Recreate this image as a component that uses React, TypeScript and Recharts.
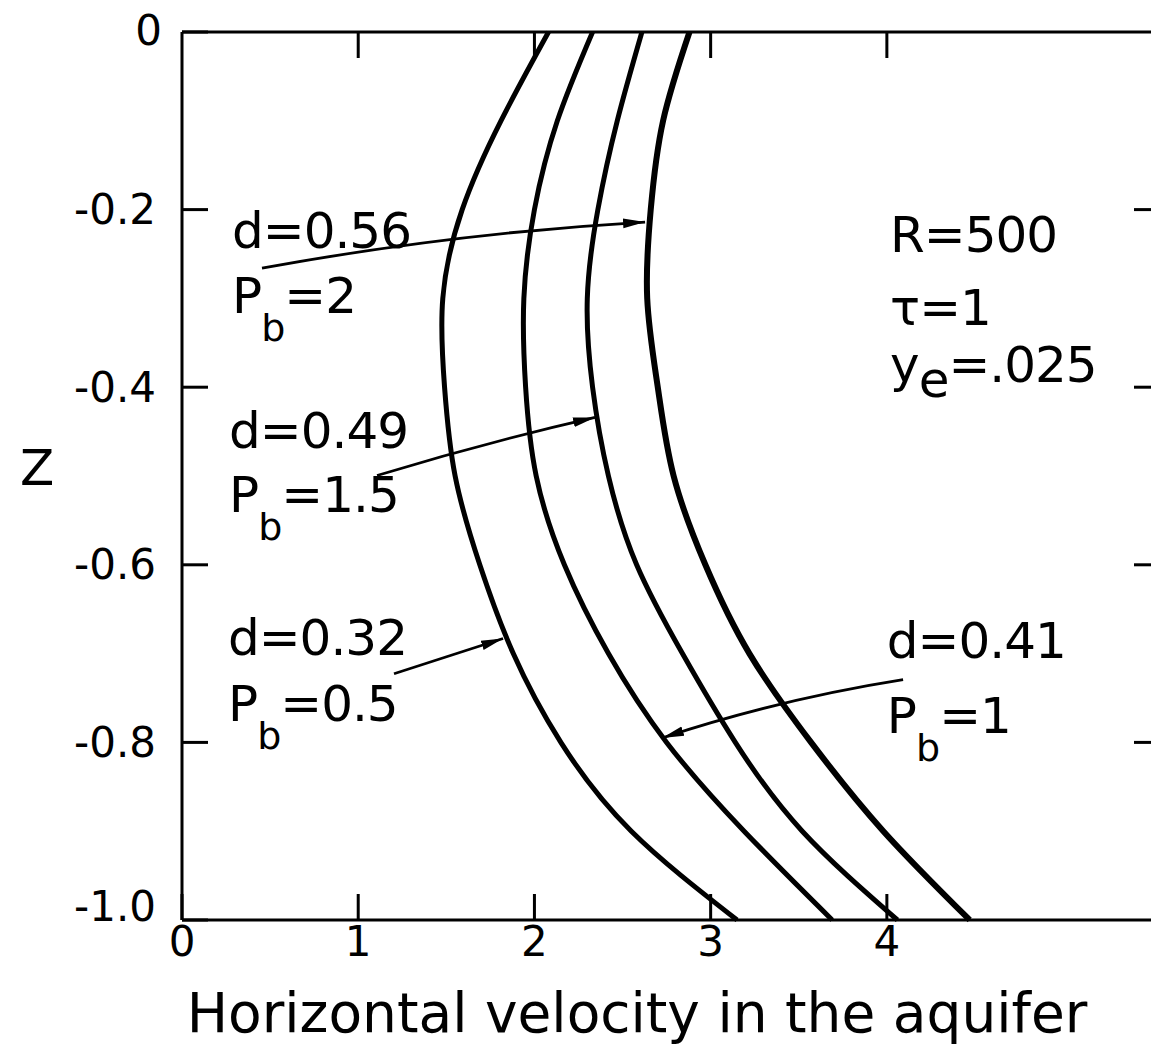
import { LineChart, Line, XAxis, YAxis, ReferenceLine, ReferenceDot } from "recharts";

// depth (Z) and horizontal velocity
const Z = [0, -0.1, -0.2, -0.3, -0.4, -0.5, -0.6, -0.7, -0.8, -0.9, -1.0];
const V_032 = [2.08, 1.81, 1.59, 1.48, 1.49, 1.55, 1.69, 1.88, 2.15, 2.55, 3.15];
const V_041 = [2.33, 2.13, 2.0, 1.94, 1.95, 2.01, 2.17, 2.42, 2.75, 3.19, 3.69];
const V_049 = [2.61, 2.47, 2.36, 2.3, 2.33, 2.42, 2.58, 2.84, 3.14, 3.52, 4.06];
const V_056 = [2.88, 2.73, 2.66, 2.64, 2.7, 2.79, 2.97, 3.22, 3.57, 3.98, 4.47];

const X_DOMAIN = [0, 5.55];
const X_TICKS = [0, 1, 2, 3, 4];
const X_TOP_TICKS = [1, 2, 3, 4];
const Z_TICKS = [0, -0.2, -0.4, -0.6, -0.8, -1.0];
const Z_LABELS = ["0", "-0.2", "-0.4", "-0.6", "-0.8", "-1.0"];
const Z_RIGHT_TICKS = [-0.2, -0.4, -0.6, -0.8];

const X_TITLE = "Horizontal velocity in the aquifer";
const Z_TITLE = "Z";

// text notes, anchored at (velocity, z) of their left baseline
const NOTES = [
  { x: 0.284, z: -0.2435, main: "d=0.56" },
  { x: 0.284, z: -0.317, main: "P", sub: "b", rest: "=2" },
  { x: 0.267, z: -0.469, main: "d=0.49" },
  { x: 0.267, z: -0.541, main: "P", sub: "b", rest: "=1.5" },
  { x: 0.261, z: -0.702, main: "d=0.32" },
  { x: 0.261, z: -0.776, main: "P", sub: "b", rest: "=0.5" },
  { x: 4.0, z: -0.7046, main: "d=0.41" },
  { x: 4.0, z: -0.789, main: "P", sub: "b", rest: "=1" },
  { x: 4.018, z: -0.248, main: "R=500" },
  { x: 4.018, z: -0.33, main: "τ=1" },
  { x: 4.018, z: -0.3946, main: "y", sub: "e", rest: "=.025", subDy: 15, subSize: 50 },
];

// leader arrows: tail -> head, bend in px
const ARROWS = [
  { from: { x: 0.454, y: -0.266 }, to: { x: 2.628, y: -0.214 }, bend: -12 },
  { from: { x: 1.107, y: -0.4994 }, to: { x: 2.344, y: -0.434 }, bend: -4 },
  { from: { x: 1.203, y: -0.7227 }, to: { x: 1.822, y: -0.683 }, bend: 0 },
  { from: { x: 4.092, y: -0.7294 }, to: { x: 2.724, y: -0.795 }, bend: 10 },
];

const FONT = "'DejaVu Sans', sans-serif";
const INK = "#000";
const AXIS_LINE = { stroke: INK, strokeWidth: 3 };

const data = Z.map((z, i) => ({ z, a: V_032[i], b: V_041[i], c: V_049[i], d: V_056[i] }));

const renderZTick = ({ x, y, payload }: any) => {
  const i = Z_TICKS.indexOf(payload.value);
  const lift = payload.value === -1 ? -14 : payload.value === 0 ? -2 : 0;
  return (
    <text x={payload.value === 0 ? x + 6 : x} y={y + lift} textAnchor="end" dominantBaseline="central"
      fontSize={42} fontFamily={FONT} fill={INK}>
      {Z_LABELS[i]}
    </text>
  );
};

const renderXTick = ({ x, y, payload }: any) => (
  <text x={x} y={y} dy="0.73em" textAnchor="middle" fontSize={42} fontFamily={FONT} fill={INK}>
    {payload.value}
  </text>
);

// frame ticks only, no labels
const renderBlank = () => <g />;

const bentArrow = (bend: number) => (p: any) => {
  const { x1, y1, x2, y2 } = p;
  const dx = x2 - x1;
  const dy = y2 - y1;
  const len = Math.hypot(dx, dy) || 1;
  const cx = (x1 + x2) / 2 + (-dy / len) * bend;
  const cy = (y1 + y2) / 2 + (dx / len) * bend;
  return (
    <path d={`M${x1},${y1} Q${cx},${cy} ${x2},${y2}`} fill="none" stroke={INK} strokeWidth={2.8}
      markerEnd="url(#arrowHead)" />
  );
};

const noteShape = (n: any) => (p: any) => {
  const subDy = n.subDy ?? 28;
  return (
    <text x={p.cx} y={p.cy} fontSize={50} fontFamily={FONT} fill={INK} letterSpacing={-1}>
      {n.main}
      {n.sub && (
        <tspan dy={subDy} fontSize={n.subSize ?? 38}>
          {n.sub}
        </tspan>
      )}
      {n.rest && (
        <tspan dy={-subDy} fontSize={50}>
          {n.rest}
        </tspan>
      )}
    </text>
  );
};

export default function App() {
  return (
    <div style={{ position: "absolute", left: 0, top: 0, width: 1151, height: 1050, overflow: "hidden", background: "#fff" }}>
      <LineChart layout="vertical" width={1162} height={1050} data={data}
        margin={{ top: 31, right: 1, bottom: 0, left: 0 }} style={{ fontFamily: FONT }}>
        <defs>
          <marker id="arrowHead" viewBox="0 0 10 10" refX="10" refY="5" markerWidth={22} markerHeight={22}
            markerUnits="userSpaceOnUse" orient="auto">
            <path d="M0,2.8 L10,5 L0,7.2 Z" fill={INK} />
          </marker>
        </defs>
        <XAxis type="number" domain={X_DOMAIN} ticks={X_TICKS} interval={0} height={130}
          tickSize={-26} tickMargin={31} tick={renderXTick} axisLine={AXIS_LINE} tickLine={AXIS_LINE}
          label={({ viewBox }: any) => (
            <text x={viewBox.x + 455} y={viewBox.y + 112} textAnchor="middle" fontSize={55}
              fontFamily={FONT} fill={INK}>
              {X_TITLE}
            </text>
          )} />
        <XAxis xAxisId="top" orientation="top" type="number" dataKey="d" domain={X_DOMAIN}
          allowDataOverflow ticks={X_TOP_TICKS} interval={0} height={1} tickSize={-26} tick={renderBlank}
          axisLine={AXIS_LINE} tickLine={AXIS_LINE} />
        <YAxis type="number" dataKey="z" domain={[-1, 0]} reversed ticks={Z_TICKS} interval={0} width={182}
          tickSize={-26} tickMargin={52} tick={renderZTick} axisLine={AXIS_LINE} tickLine={AXIS_LINE}
          label={({ viewBox }: any) => (
            <text x={viewBox.x + 20} y={viewBox.y + viewBox.height / 2 + 9} fontSize={50}
              fontFamily={FONT} fill={INK}>
              {Z_TITLE}
            </text>
          )} />
        <YAxis yAxisId="right" orientation="right" type="number" dataKey="z" domain={[-1, 0]} reversed
          ticks={Z_RIGHT_TICKS} interval={0} width={1} tickSize={-26} tick={renderBlank}
          axisLine={AXIS_LINE} tickLine={AXIS_LINE} />
        <Line dataKey="a" type="natural" stroke={INK} strokeWidth={5} dot={false} isAnimationActive={false} />
        <Line dataKey="b" type="natural" stroke={INK} strokeWidth={5} dot={false} isAnimationActive={false} />
        <Line dataKey="c" type="natural" stroke={INK} strokeWidth={5} dot={false} isAnimationActive={false} />
        <Line dataKey="d" type="natural" stroke={INK} strokeWidth={6} dot={false} isAnimationActive={false} />
        {ARROWS.map((a, i) => (
          <ReferenceLine key={`arrow-${i}`} segment={[a.from, a.to]} ifOverflow="visible" shape={bentArrow(a.bend)} />
        ))}
        {NOTES.map((n, i) => (
          <ReferenceDot key={`note-${i}`} x={n.x} y={n.z} r={1} ifOverflow="visible" shape={noteShape(n)} />
        ))}
      </LineChart>
    </div>
  );
}
